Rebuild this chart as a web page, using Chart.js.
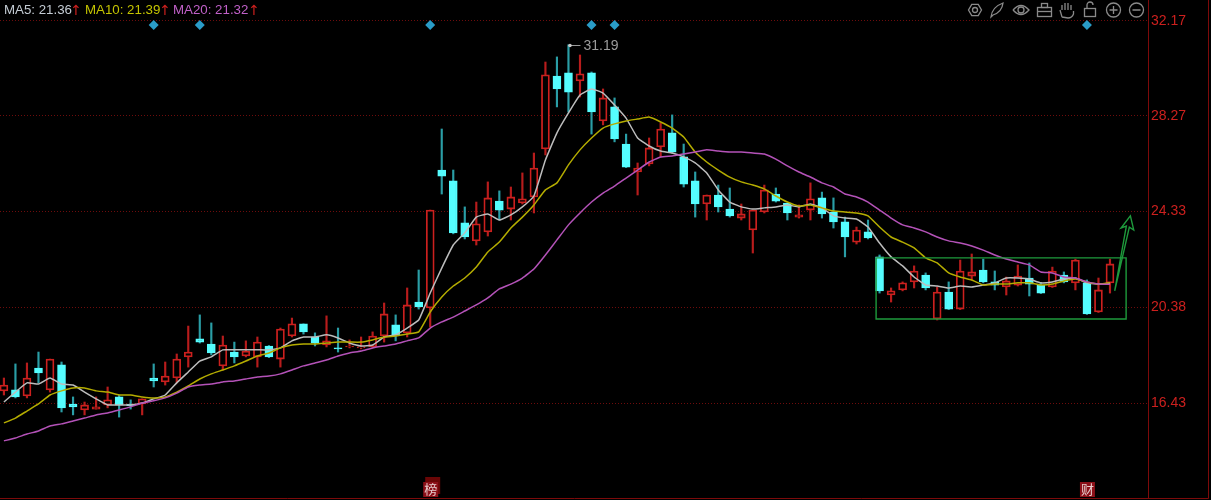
<!DOCTYPE html>
<html>
<head>
<meta charset="utf-8">
<title>K-line</title>
<script src="https://cdn.jsdelivr.net/npm/chart.js@4"></script>
<style>
  html, body { margin: 0; padding: 0; background: #000; overflow: hidden; }
  canvas { display: block; }
</style>
</head>
<body>
<canvas id="chart" width="1211" height="500"></canvas>
<script>
const opens = [16.93,16.97,16.72,17.87,16.97,18.00,16.39,16.14,16.18,16.35,
  16.68,16.39,16.39,17.46,17.30,17.46,18.33,19.07,18.86,17.96,
  18.53,18.37,18.33,18.78,18.24,19.19,19.69,19.15,18.82,18.70,
  18.74,18.70,18.74,19.19,19.65,19.32,20.59,20.35,26.03,25.58,
  23.85,23.11,23.48,24.75,24.42,24.67,24.92,26.90,29.90,30.03,
  29.70,30.03,28.05,28.63,27.10,25.95,26.28,26.98,27.56,26.57,
  25.58,24.63,25.00,24.42,24.05,23.56,24.30,25.04,24.67,24.09,
  24.38,24.88,24.30,23.89,23.06,23.48,22.45,20.88,21.09,21.42,
  21.70,19.89,21.00,20.30,21.66,21.91,21.42,21.21,21.29,21.58,
  21.29,21.21,21.70,21.38,21.38,20.18,21.38];
const closes = [17.17,16.68,17.46,17.67,18.24,16.23,16.27,16.35,16.27,16.56,
  16.35,16.31,16.60,17.34,17.54,18.24,18.53,18.94,18.49,18.82,
  18.33,18.57,18.94,18.33,19.48,19.69,19.36,18.90,18.99,18.66,
  18.78,18.74,19.19,20.10,19.19,20.47,20.39,24.38,25.78,23.44,
  23.27,23.81,24.88,24.38,24.92,24.84,26.11,29.95,29.37,29.24,
  29.99,28.42,29.00,27.31,26.15,26.11,26.94,27.72,26.77,25.45,
  24.63,25.00,24.51,24.14,24.22,24.38,25.21,24.75,24.26,24.18,
  24.84,24.22,23.89,23.27,23.56,23.23,21.05,21.05,21.38,21.87,
  21.17,21.00,20.30,21.87,21.83,21.42,21.29,21.46,21.66,21.33,
  20.96,21.87,21.42,22.32,20.10,21.09,22.16];
const highs = [17.46,18.04,18.08,18.53,18.24,18.12,16.68,16.47,16.68,17.09,
  16.76,16.56,16.60,18.04,18.12,18.45,19.60,20.06,19.73,19.19,
  18.94,18.99,19.15,18.80,19.52,19.93,19.69,19.32,20.02,19.52,
  19.03,19.15,19.36,20.55,20.06,21.17,21.91,24.38,27.72,26.03,
  24.51,24.71,25.54,25.17,25.33,25.91,26.73,30.48,30.69,31.19,
  30.77,30.07,29.37,29.00,27.51,26.32,27.35,27.97,28.30,27.10,
  25.95,25.00,25.41,25.29,24.63,24.38,25.41,25.29,24.67,24.59,
  25.50,25.12,24.88,24.09,23.68,23.97,22.53,21.17,21.42,22.08,
  21.79,21.21,21.42,22.32,22.57,22.36,21.87,21.62,22.12,22.20,
  21.38,22.03,21.83,22.36,21.50,21.58,22.36];
const lows = [16.76,16.64,16.64,17.26,16.88,16.06,15.94,15.94,16.18,16.23,
  15.85,16.18,15.94,17.09,17.17,17.26,17.91,18.90,18.41,17.79,
  18.08,18.33,17.91,18.30,17.91,19.15,19.27,18.78,18.74,18.53,
  18.70,18.66,18.72,18.94,18.99,19.15,20.30,19.56,25.04,23.40,
  23.19,22.94,23.31,23.97,23.97,24.63,24.26,26.65,28.63,28.42,
  29.04,27.51,27.89,27.19,26.13,25.00,26.20,26.57,26.73,25.33,
  24.09,23.97,24.30,24.09,23.97,22.61,24.26,24.71,23.97,24.05,
  23.97,24.05,23.64,22.45,22.98,23.19,20.96,20.59,21.05,21.17,
  21.09,19.85,20.28,20.28,21.50,21.38,21.09,20.88,21.25,20.84,
  20.94,21.19,21.38,21.09,20.08,20.16,20.96];
const ma5 = [16.47,16.88,17.26,17.21,17.46,17.21,17.17,16.88,16.60,16.35,
  16.35,16.35,16.43,16.60,16.76,17.26,17.71,18.16,18.33,18.62,
  18.62,18.62,18.62,18.62,18.70,18.99,19.15,19.15,19.24,19.11,
  18.90,18.78,18.82,19.15,19.24,19.52,19.85,20.96,21.99,22.94,
  23.44,24.09,24.22,23.97,24.18,24.51,24.96,26.44,27.56,28.38,
  29.12,29.37,29.20,28.71,28.17,27.35,27.02,26.81,26.73,26.57,
  26.32,25.91,25.21,24.71,24.51,24.42,24.47,24.51,24.59,24.51,
  24.63,24.47,24.14,24.05,24.01,23.68,23.02,22.45,22.08,21.62,
  21.29,21.25,21.17,21.25,21.21,21.29,21.38,21.58,21.58,21.54,
  21.38,21.42,21.54,21.58,21.38,21.33,21.36];
const ma10 = [15.61,15.81,16.10,16.39,16.76,16.93,17.05,17.05,16.93,16.88,
  16.76,16.76,16.68,16.64,16.68,16.88,17.13,17.42,17.63,17.79,
  17.96,18.16,18.37,18.49,18.70,18.82,18.86,18.86,18.90,18.94,
  18.94,18.94,19.03,19.15,19.19,19.27,19.36,20.18,20.80,21.25,
  21.58,22.03,22.65,23.06,23.64,24.09,24.59,25.21,25.50,26.24,
  26.86,27.35,27.76,27.93,28.05,28.13,28.21,28.01,27.76,27.39,
  26.77,26.36,26.03,25.74,25.54,25.41,25.25,24.96,24.71,24.55,
  24.59,24.47,24.34,24.30,24.26,24.14,23.68,23.27,23.06,22.82,
  22.41,22.20,21.79,21.62,21.50,21.29,21.33,21.33,21.38,21.38,
  21.29,21.33,21.46,21.54,21.42,21.33,21.39];
const ma20 = [14.87,14.99,15.15,15.28,15.48,15.57,15.69,15.81,15.94,16.02,
  16.14,16.27,16.43,16.52,16.64,16.84,17.09,17.17,17.21,17.30,
  17.34,17.42,17.50,17.54,17.63,17.79,17.96,18.08,18.20,18.37,
  18.49,18.57,18.70,18.78,18.86,18.99,19.11,19.52,19.77,19.97,
  20.22,20.47,20.76,21.13,21.33,21.58,21.95,22.53,23.15,23.77,
  24.26,24.71,25.08,25.37,25.70,26.03,26.36,26.57,26.61,26.69,
  26.77,26.86,26.81,26.77,26.77,26.73,26.69,26.48,26.20,25.95,
  25.74,25.50,25.33,25.04,24.92,24.71,24.38,24.05,23.77,23.64,
  23.48,23.27,23.11,23.02,22.90,22.73,22.53,22.36,22.24,22.12,
  21.83,21.79,21.62,21.58,21.42,21.33,21.32];

const yTicks = [32.17, 28.27, 24.33, 20.38, 16.43];

// blue event markers along the top
const eventIndex = [13, 17, 37, 51, 53, 94];
const eventPrice = [32.0, 32.0, 32.0, 32.0, 32.0, 32.0];

// hand drawn box and arrow, in index / price units
const boxX = [75.7, 97.4, 97.4, 75.7, 75.7];
const boxY = [22.41, 22.41, 19.89, 19.89, 22.41];
const arrowX = [96.41, 97.42, 96.96, 97.77, 98.06, 97.68, 96.41];
const arrowY = [21.05, 23.72, 23.64, 24.14, 23.56, 23.68, 21.05];

const maxIndex = 49;
const maxValue = 31.19;
const badgeIndex = [37, 94];
const badgeText = ["榜", "财"];

const RED = "#cc201e";
const CYAN = "#55fdff";
const WICK_RED = "#b81c1c";
const WICK_CYAN = "#2a9ea6";
const AXIS_RED = "#7c0a0a";

const isUp = opens.map((o, i) => closes[i] >= o);

function xy(ys) {
  return ys.map((y, i) => ({ x: i, y: y }));
}

function lineSet(xs, ys, color, width) {
  return {
    type: "line",
    data: xs.map((x, i) => ({ x: x, y: ys[i] })),
    borderColor: color,
    borderWidth: width,
    pointRadius: 0,
    tension: 0,
    order: 1,
  };
}

function maSet(ys, color) {
  return {
    type: "line",
    data: xy(ys),
    borderColor: color,
    borderWidth: 1.5,
    pointRadius: 0,
    tension: 0.12,
    order: 2,
  };
}

function noPadding(s) {
  s.paddingLeft = 0;
  s.paddingRight = 0;
  s.paddingTop = 0;
  s.paddingBottom = 0;
}

function drawToolbar(ctx) {
  ctx.save();
  ctx.strokeStyle = "#8a8a8a";
  ctx.lineWidth = 1.3;

  // gear
  ctx.beginPath();
  for (let a = 0; a < 6; a++) {
    const t = (a * Math.PI) / 3;
    const px = 975 + 6.5 * Math.cos(t);
    const py = 10 + 6.5 * Math.sin(t);
    a === 0 ? ctx.moveTo(px, py) : ctx.lineTo(px, py);
  }
  ctx.closePath();
  ctx.stroke();
  ctx.beginPath();
  ctx.arc(975, 10, 2.5, 0, Math.PI * 2);
  ctx.stroke();

  // feather
  ctx.beginPath();
  ctx.moveTo(991, 17);
  ctx.quadraticCurveTo(992, 7, 1003, 3);
  ctx.quadraticCurveTo(1002, 12, 993, 15);
  ctx.closePath();
  ctx.stroke();

  // eye
  ctx.beginPath();
  ctx.moveTo(1013, 10);
  ctx.quadraticCurveTo(1021, 1, 1029, 10);
  ctx.quadraticCurveTo(1021, 19, 1013, 10);
  ctx.stroke();
  ctx.beginPath();
  ctx.arc(1021, 10, 3, 0, Math.PI * 2);
  ctx.stroke();

  // toolbox
  ctx.strokeRect(1037.5, 7.5, 14, 9);
  ctx.strokeRect(1041.5, 3.5, 6, 4);
  ctx.beginPath();
  ctx.moveTo(1037.5, 11.5);
  ctx.lineTo(1051.5, 11.5);
  ctx.stroke();

  // hand
  ctx.beginPath();
  ctx.moveTo(1062, 17);
  ctx.lineTo(1060, 10);
  ctx.moveTo(1062, 10);
  ctx.lineTo(1062, 5);
  ctx.moveTo(1065, 10);
  ctx.lineTo(1065, 3);
  ctx.moveTo(1068, 10);
  ctx.lineTo(1068, 3);
  ctx.moveTo(1071, 10);
  ctx.lineTo(1071, 5);
  ctx.moveTo(1073.5, 11);
  ctx.lineTo(1073.5, 14);
  ctx.quadraticCurveTo(1072, 18, 1068, 18);
  ctx.lineTo(1062, 17);
  ctx.stroke();

  // open lock
  ctx.strokeRect(1084.5, 8.5, 11, 8);
  ctx.beginPath();
  ctx.moveTo(1087, 8);
  ctx.lineTo(1087, 5);
  ctx.arc(1090, 5, 3, Math.PI, 0);
  ctx.stroke();

  // zoom in and out
  ctx.beginPath();
  ctx.arc(1113.5, 10, 7, 0, Math.PI * 2);
  ctx.moveTo(1109.5, 10);
  ctx.lineTo(1117.5, 10);
  ctx.moveTo(1113.5, 6);
  ctx.lineTo(1113.5, 14);
  ctx.stroke();
  ctx.beginPath();
  ctx.arc(1136.5, 10, 7, 0, Math.PI * 2);
  ctx.moveTo(1132.5, 10);
  ctx.lineTo(1140.5, 10);
  ctx.stroke();
  ctx.restore();
}

const overlay = {
  id: "overlay",
  afterDraw(chart) {
    const ctx = chart.ctx;
    const xs = chart.scales.x;
    const ys = chart.scales.y;

    // frame pieces outside the plot
    ctx.save();
    ctx.strokeStyle = AXIS_RED;
    ctx.lineWidth = 1;
    ctx.beginPath();
    ctx.moveTo(1148, 498.5);
    ctx.lineTo(1208.5, 498.5);
    ctx.moveTo(1208.5, 0);
    ctx.lineTo(1208.5, 498.5);
    ctx.stroke();
    ctx.restore();

    // MA legend
    ctx.save();
    ctx.textBaseline = "alphabetic";
    const legend = [
      ["MA5: 21.36", 4, "#c4ccd4", 76],
      ["MA10: 21.39", 85, "#c4c400", 165],
      ["MA20: 21.32", 173, "#c060c8", 254],
    ];
    legend.forEach((l) => {
      ctx.fillStyle = l[2];
      ctx.textAlign = "left";
      ctx.font = "13.3px 'Liberation Sans'";
      ctx.fillText(l[0], l[1], 14);
      ctx.fillStyle = RED;
      ctx.textAlign = "center";
      ctx.font = "14px 'DejaVu Sans'";
      ctx.fillText("↑", l[3], 15);
    });
    ctx.textAlign = "left";

    // max price label
    const mx = xs.getPixelForValue(maxIndex);
    const my = Math.round(ys.getPixelForValue(maxValue)) + 0.5;
    ctx.strokeStyle = "#9a9a9a";
    ctx.lineWidth = 1;
    ctx.beginPath();
    ctx.moveTo(mx, my);
    ctx.lineTo(mx + 12, my);
    ctx.stroke();
    ctx.fillStyle = "#c8c8c8";
    ctx.beginPath();
    ctx.arc(mx + 1.5, my, 1.8, 0, Math.PI * 2);
    ctx.fill();
    ctx.fillStyle = "#9c9c9c";
    ctx.textBaseline = "middle";
    ctx.font = "14px 'Liberation Sans'";
    ctx.fillText(String(maxValue), mx + 15, my + 1);

    // badges on the bottom edge
    badgeIndex.forEach((b, i) => {
      const bx = xs.getPixelForValue(b);
      if (i === 0) {
        ctx.fillStyle = "#6a0606";
        ctx.fillRect(bx - 5, 477, 15, 17);
      }
      ctx.fillStyle = "#8c1018";
      ctx.fillRect(bx - 7, 482, 15, 15);
      ctx.fillStyle = "#e6cccc";
      ctx.font = "13px 'Noto Sans CJK SC'";
      ctx.textAlign = "center";
      ctx.textBaseline = "middle";
      ctx.fillText(badgeText[i], bx + 0.5, 489.5);
    });
    ctx.restore();

    drawToolbar(ctx);
  },
};

new Chart(document.getElementById("chart"), {
  type: "bar",
  data: {
    datasets: [
      // candle bodies, then wicks behind them
      {
        data: opens.map((o, i) => ({ x: i, y: [o, closes[i]] })),
        backgroundColor: isUp.map((u) => (u ? "#000" : CYAN)),
        borderColor: isUp.map((u) => (u ? RED : CYAN)),
        borderWidth: 1.8,
        borderSkipped: false,
        barThickness: 8,
        grouped: false,
        order: 3,
      },
      {
        data: lows.map((l, i) => ({ x: i, y: [l, highs[i]] })),
        backgroundColor: isUp.map((u) => (u ? WICK_RED : WICK_CYAN)),
        borderWidth: 0,
        barThickness: 1.5,
        grouped: false,
        order: 4,
      },
      maSet(ma20, "#b452b8"),
      maSet(ma10, "#b4ac00"),
      maSet(ma5, "#bdbdbd"),
      lineSet(boxX, boxY, "#1e9a3c", 1.4),
      lineSet(arrowX, arrowY, "#1e9a3c", 1.4),
      {
        type: "scatter",
        data: eventIndex.map((x, i) => ({ x: x, y: eventPrice[i] })),
        backgroundColor: "#2a9cc8",
        pointStyle: "rectRot",
        pointRadius: 5,
        borderWidth: 0,
        order: 0,
      },
    ],
  },
  plugins: [overlay],
  options: {
    responsive: false,
    animation: false,
    events: [],
    layout: { padding: 0, autoPadding: false },
    plugins: { legend: { display: false }, tooltip: { enabled: false } },
    scales: {
      x: {
        type: "linear",
        min: -0.34,
        max: 99.3,
        offset: false,
        grid: { display: false, drawTicks: false },
        border: { color: AXIS_RED, width: 1 },
        ticks: { display: false },
        afterFit: (s) => {
          s.height = 2;
          noPadding(s);
        },
      },
      y: {
        position: "right",
        min: 12.516,
        max: 33.035,
        afterBuildTicks: (s) => {
          s.ticks = yTicks.map((v) => ({ value: v }));
        },
        afterFit: (s) => {
          s.width = 63;
          noPadding(s);
        },
        grid: { color: "#6e0c0c", lineWidth: 1, drawTicks: false },
        border: { color: AXIS_RED, width: 1, dash: [1, 2] },
        ticks: {
          color: RED,
          padding: 3,
          autoSkip: false,
          maxRotation: 0,
          font: { family: "'Liberation Sans'", size: 14 },
          callback: (v) => v.toFixed(2),
        },
      },
    },
  },
});
</script>
</body>
</html>
